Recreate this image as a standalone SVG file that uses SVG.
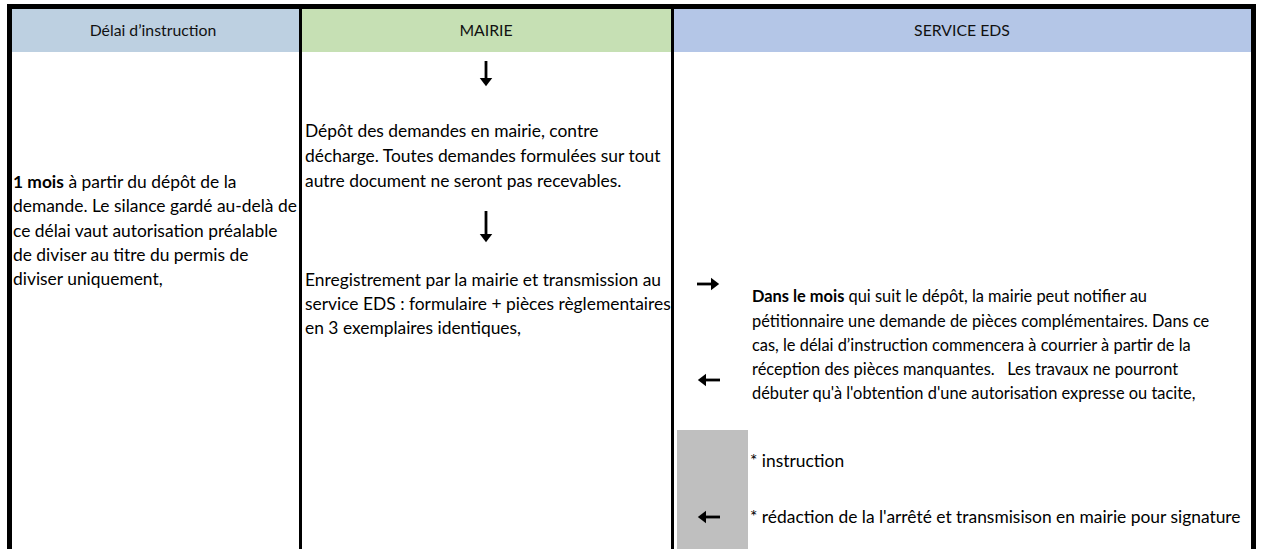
<svg xmlns="http://www.w3.org/2000/svg" width="1261" height="549" viewBox="0 0 1261 549">
<style>
  .t { font-family: Lato, "Liberation Sans", sans-serif; font-size: 17.4px; fill: #000; }
  .s { font-size: 16.4px; }
  .h { font-family: Lato, "Liberation Sans", sans-serif; font-size: 15.8px; fill: #111; text-anchor: middle; }
  .b { font-weight: bold; }
  .border { fill: #000; }
  .arr { stroke: #000; stroke-width: 2.8; fill: none; marker-end: url(#head); }
</style>
<defs>
  <marker id="head" markerWidth="5" markerHeight="5" refX="0.8" refY="2.5" orient="auto" markerUnits="strokeWidth">
    <path d="M0,0.2 L3,2.5 L0,4.8 Z" fill="#000"/>
  </marker>
</defs>
<rect x="0" y="0" width="1261" height="549" fill="#fff"/>

<g id="header-delai">
  <rect x="12" y="9" width="287" height="43" fill="#BDD0E1"/>
  <text class="h" x="153" y="36">Délai d’instruction</text>
</g>
<g id="header-mairie">
  <rect x="302" y="9" width="369" height="43" fill="#C6E0B4"/>
  <text class="h" x="486" y="36">MAIRIE</text>
</g>
<g id="header-eds">
  <rect x="674" y="9" width="577" height="43" fill="#B4C6E7"/>
  <text class="h" x="962" y="36">SERVICE EDS</text>
</g>

<g id="frame">
  <rect class="border" x="7" y="4" width="1249" height="5"/>
  <rect class="border" x="7" y="4" width="5" height="545"/>
  <rect class="border" x="299" y="4" width="3" height="545"/>
  <rect class="border" x="671" y="4" width="3" height="545"/>
  <rect class="border" x="1251" y="4" width="5" height="545"/>
</g>

<g id="gray-box">
  <rect x="677" y="430" width="71" height="119" fill="#BFBFBF"/>
</g>

<g id="delai-text">
  <text class="t" x="13" y="188"><tspan class="b">1 mois</tspan> à partir du dépôt de la</text>
  <text class="t" x="13" y="212">demande. Le silance gardé au-delà de</text>
  <text class="t" x="13" y="237">ce délai vaut autorisation préalable</text>
  <text class="t" x="13" y="261">de diviser au titre du permis de</text>
  <text class="t" x="13" y="285">diviser uniquement,</text>
</g>

<g id="mairie-depot">
  <text class="t" x="305" y="137">Dépôt des demandes en mairie, contre</text>
  <text class="t" x="305" y="162">décharge. Toutes demandes formulées sur tout</text>
  <text class="t" x="305" y="187">autre document ne seront pas recevables.</text>
</g>

<g id="mairie-enregistrement">
  <text class="t" x="305" y="286">Enregistrement par la mairie et transmission au</text>
  <text class="t" x="305" y="310">service EDS : formulaire + pièces règlementaires</text>
  <text class="t" x="305" y="334">en 3 exemplaires identiques,</text>
</g>

<g id="eds-notification">
  <text class="t s" x="752" y="302"><tspan class="b">Dans le mois</tspan> qui suit le dépôt, la mairie peut notifier au</text>
  <text class="t s" x="752" y="327">pétitionnaire une demande de pièces complémentaires. Dans ce</text>
  <text class="t s" x="752" y="351">cas, le délai d’instruction commencera à courrier à partir de la</text>
  <text class="t s" x="752" y="375" xml:space="preserve">réception des pièces manquantes.   Les travaux ne pourront</text>
  <text class="t s" x="752" y="399">débuter qu'à l'obtention d'une autorisation expresse ou tacite,</text>
</g>

<g id="eds-instruction">
  <text class="t" x="750" y="467">* instruction</text>
</g>
<g id="eds-redaction">
  <text class="t" x="750" y="523">* rédaction de la l'arrêté et transmisison en mairie pour signature</text>
</g>

<g id="connectors">
  <line class="arr" x1="486" y1="61" x2="486" y2="80"/>
  <line class="arr" x1="486" y1="211" x2="486" y2="236"/>
  <line class="arr" x1="697" y1="284" x2="713" y2="284"/>
  <line class="arr" x1="720" y1="380" x2="704" y2="380"/>
  <line class="arr" x1="720" y1="517" x2="704" y2="517"/>
</g>
</svg>
